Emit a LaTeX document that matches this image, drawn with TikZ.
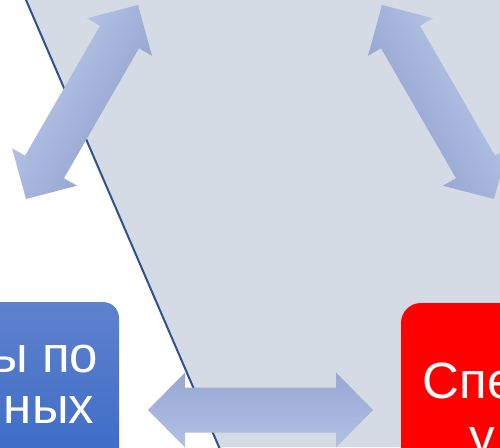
\documentclass[tikz,border=0pt]{standalone}
\usepackage{fontspec}
\setmainfont{Liberation Sans}
\definecolor{bggray}{RGB}{213,219,229}
\definecolor{edgeblue}{RGB}{47,82,143}
\definecolor{arrlight}{RGB}{178,192,227}
\definecolor{arrdark}{RGB}{151,168,211}
\definecolor{boxtop}{RGB}{95,130,205}
\definecolor{boxbot}{RGB}{58,106,198}
\definecolor{boxred}{RGB}{255,0,0}
\tikzset{
  blockarrow/.style={draw=none, shading=axis},
  boxtext/.style={inner sep=0pt, text=white, font=\fontsize{51}{56}\selectfont},
}
\newcommand{\dblarrow}[2]{% #1 length, #2 style options
  \path[blockarrow,#2] (0,0) -- (37,37.5) -- (37,22.5) -- (#1-37,22.5) -- (#1-37,37.5)
    -- (#1,0) -- (#1-37,-37.5) -- (#1-37,-22.5) -- (37,-22.5) -- (37,-37.5) -- cycle;}
\begin{document}
\begin{tikzpicture}[x=1pt,y=-1pt]
\useasboundingbox (0,0) rectangle (500,447);
% background panel
\fill[bggray] (26,0) -- (500,0) -- (500,447) -- (219,447) -- cycle;
\draw[edgeblue, line width=2pt] (21.7,-10) -- (223.3,457);
% left diagonal double arrow
\begin{scope}[transform canvas={shift={(26,199)}, rotate=60}]
  \dblarrow{224}{top color=arrlight, bottom color=arrdark}
\end{scope}
% right diagonal double arrow
\begin{scope}[transform canvas={shift={(382,5)}, rotate=-60}]
  \dblarrow{224}{top color=arrlight, bottom color=arrdark}
\end{scope}
% bottom horizontal double arrow
\begin{scope}[transform canvas={shift={(148,410)}}]
  \dblarrow{225}{top color=arrdark, bottom color=arrlight}
\end{scope}
% blue box
\shade[top color=boxtop, bottom color=boxbot, rounded corners=16pt] (-120,302) rectangle (119,470);
\node[boxtext, anchor=base east] (bl1) at (98.5,372) {ы по};
\node[boxtext, anchor=base east] (bl2) at (94.5,423) {ных};
% red box
\fill[boxred, rounded corners=20pt] (401,303) rectangle (620,520);
\node[boxtext, anchor=base west] (rd1) at (422.5,398) {Спе};
\node[boxtext, anchor=base west] (rd2) at (469.5,454) {у};
\end{tikzpicture}
\end{document}
